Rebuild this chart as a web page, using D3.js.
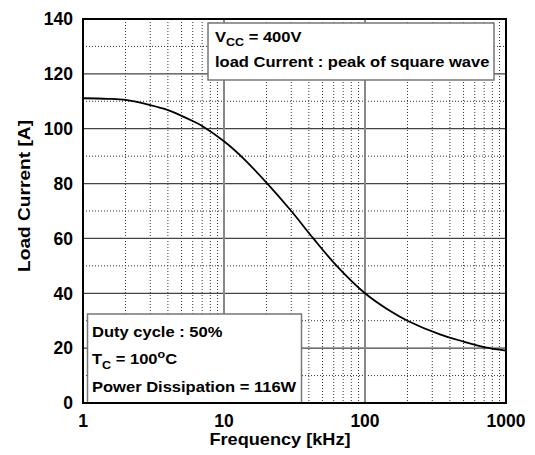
<!DOCTYPE html>
<html><head><meta charset="utf-8">
<script src="https://cdn.jsdelivr.net/npm/d3@7/dist/d3.min.js"></script>
<style>body{margin:0;background:#fff}svg{display:block}text{font-family:"Liberation Sans",Arial,sans-serif;font-weight:bold;fill:#000}</style>
</head><body>
<script>
const freq = [1, 1.5, 2, 3, 4, 5, 6, 7, 10, 13.7, 20.3, 30, 43, 63, 100, 150, 200, 340, 500, 700, 1000];
const current = [111.1, 110.9, 110.5, 108.6, 106.8, 104.7, 102.8, 101.0, 95.4, 89.2, 80, 70, 60, 50, 40, 33.6, 30, 25, 22.4, 20.4, 19.1];
const xTicks = [1, 10, 100, 1000];
const yTicks = [0, 20, 40, 60, 80, 100, 120, 140];
const xMinor = [2,3,4,5,6,7,8,9,20,30,40,50,60,70,80,90,200,300,400,500,600,700,800,900];
const yMinor = [10,30,50,70,90,110,130];
const infoTop = ["= 400V", "load Current : peak of square wave"];
const infoBottom = ["Duty cycle : 50%", "= 100", "Power Dissipation = 116W"];

const W = 535, H = 455;
const L = 83, R = 506, T = 19, B = 403;
const svg = d3.select("body").append("svg").attr("width", W).attr("height", H);
const x = d3.scaleLog().domain([1, 1000]).range([L, R]);
const y = d3.scaleLinear().domain([0, 140]).range([B, T]);

const g = svg.append("g");
// minor grid
g.selectAll(".xm").data(xMinor).enter().append("line")
  .attr("x1", d => x(d)).attr("x2", d => x(d)).attr("y1", T).attr("y2", B)
  .attr("stroke", "#333").attr("stroke-width", 1).attr("stroke-dasharray", "1,2");
g.selectAll(".ym").data(yMinor).enter().append("line")
  .attr("x1", L).attr("x2", R).attr("y1", d => y(d)).attr("y2", d => y(d))
  .attr("stroke", "#333").attr("stroke-width", 1).attr("stroke-dasharray", "1,2");
// major grid
g.selectAll(".yM").data(yTicks.filter(d => d > 0 && d < 140)).enter().append("line")
  .attr("x1", L).attr("x2", R).attr("y1", d => y(d)).attr("y2", d => y(d))
  .attr("stroke", "#444").attr("stroke-width", 1.2);
g.selectAll(".xM").data(xTicks.filter(d => d > 1 && d < 1000)).enter().append("line")
  .attr("x1", d => x(d)).attr("x2", d => x(d)).attr("y1", T).attr("y2", B)
  .attr("stroke", "#888").attr("stroke-width", 2);

// curve
const line = d3.line().x(d => x(d[0])).y(d => y(d[1])).curve(d3.curveCatmullRom.alpha(0.5));
svg.append("path").datum(freq.map((f, i) => [f, current[i]]))
  .attr("d", line).attr("fill", "none").attr("stroke", "#000").attr("stroke-width", 1.8);

// boxes
const SX = 1.14, FS = 14.5;
svg.append("rect").attr("x", 208).attr("y", 23).attr("width", 286).attr("height", 57)
  .attr("fill", "#fff").attr("stroke", "#777").attr("stroke-width", 1.5);
const top1 = svg.append("g").attr("transform", `translate(215,42) scale(${SX},1)`);
const t1 = top1.append("text").attr("font-size", FS);
t1.append("tspan").text("V");
t1.append("tspan").attr("font-size", 11).attr("dy", 4).text("CC");
t1.append("tspan").attr("dy", -4).text(" " + infoTop[0]);
svg.append("g").attr("transform", `translate(215,67) scale(${SX},1)`)
  .append("text").attr("font-size", FS).text(infoTop[1]);

svg.append("rect").attr("x", 87.5).attr("y", 314).attr("width", 214).attr("height", B - 314)
  .attr("fill", "#fff").attr("stroke", "#777").attr("stroke-width", 1.5);
svg.append("g").attr("transform", `translate(92,337) scale(${SX},1)`)
  .append("text").attr("font-size", FS).text(infoBottom[0]);
const t2 = svg.append("g").attr("transform", `translate(92,364) scale(${SX},1)`)
  .append("text").attr("font-size", FS);
t2.append("tspan").text("T");
t2.append("tspan").attr("font-size", 11).attr("dy", 5).text("C");
t2.append("tspan").attr("dy", -5).text(" " + infoBottom[1]);
t2.append("tspan").attr("font-size", 11).attr("dy", -6).text("o");
t2.append("tspan").attr("dy", 6).text("C");
svg.append("g").attr("transform", `translate(92,392) scale(${SX},1)`)
  .append("text").attr("font-size", FS).text(infoBottom[2]);

// frame
svg.append("rect").attr("x", L).attr("y", T).attr("width", R - L).attr("height", B - T)
  .attr("fill", "none").attr("stroke", "#000").attr("stroke-width", 2);

// axes tick labels
svg.append("g").selectAll("text").data(yTicks).enter().append("text")
  .attr("x", 73).attr("y", d => y(d)).attr("dy", "0.36em").attr("text-anchor", "end")
  .attr("font-size", 17.5).text(d => d);
svg.append("g").selectAll("text").data(xTicks).enter().append("text")
  .attr("x", d => x(d)).attr("y", 427).attr("text-anchor", "middle")
  .attr("font-size", 17.5).text(d => d);

svg.append("text").attr("x", 280).attr("y", 445).attr("text-anchor", "middle")
  .attr("font-size", 17).attr("textLength", 141).attr("lengthAdjust", "spacingAndGlyphs")
  .text("Frequency [kHz]");
svg.append("text").attr("transform", "translate(30,196) rotate(-90)").attr("text-anchor", "middle")
  .attr("font-size", 17).attr("textLength", 152).attr("lengthAdjust", "spacingAndGlyphs")
  .text("Load Current [A]");
</script>
</body></html>
